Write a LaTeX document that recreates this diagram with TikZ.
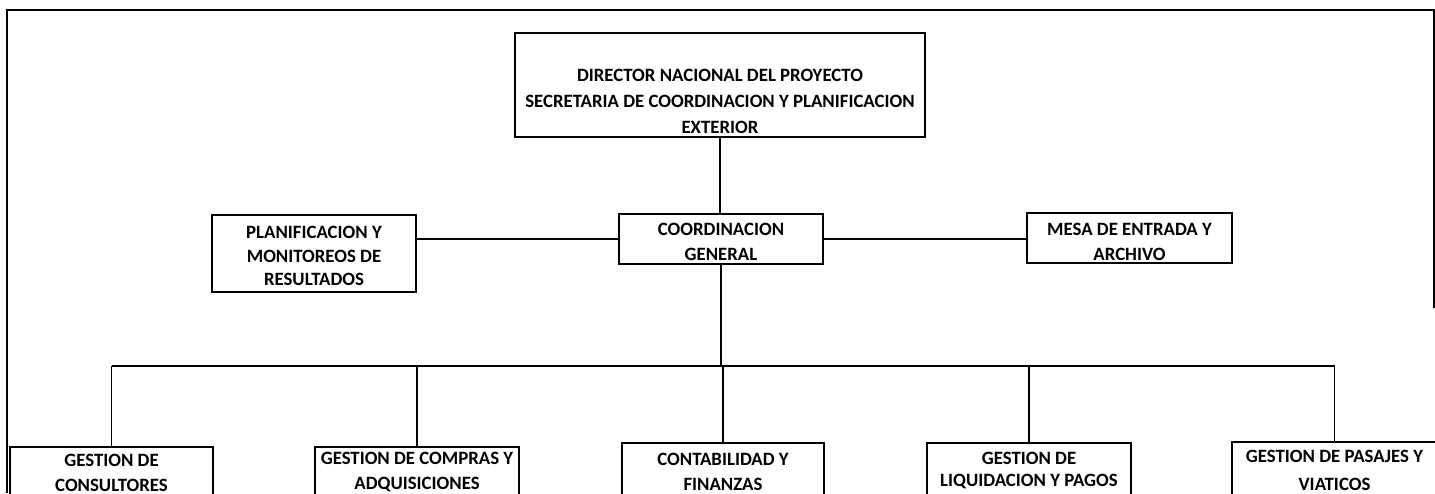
\documentclass[tikz,border=0pt]{standalone}
\usepackage{fontspec}
\setmainfont{Carlito}
\begin{document}
\begin{tikzpicture}[x=1pt,y=-1pt,
  box/.style={draw=black,line width=1.3pt,inner sep=0pt,fill=none},
  txt/.style={align=center,inner sep=0pt,font=\bfseries\fontsize{18.8}{25}\selectfont},
  link/.style={draw=black,line width=1.1pt},
  frame/.style={draw=black,line width=2pt}]
\useasboundingbox (0,0) rectangle (1435,493);
\clip (0,0) rectangle (1435,493);
\fill[white] (0,0) rectangle (1435,493);
% outer frame
\coordinate (fl) at (7,493);
\coordinate (ftl) at (7,10);
\coordinate (ftr) at (1434,10);
\coordinate (fr) at (1434,308);
\draw[frame] (fl) -- (ftl) -- (ftr) -- (fr);
% boxes
\node[box,minimum width=410pt,minimum height=104pt] (top) at (720,85) {};
\node[box,minimum width=204pt,minimum height=50pt] (coord) at (721,239) {};
\node[box,minimum width=204pt,minimum height=77pt] (plan) at (314,253.5) {};
\node[box,minimum width=205pt,minimum height=50pt] (mesa) at (1129.5,238) {};
\node[box,minimum width=203pt,minimum height=100pt] (b1) at (111.5,497) {};
\node[box,minimum width=204pt,minimum height=100pt] (b2) at (417,497) {};
\node[box,minimum width=202pt,minimum height=100pt] (b3) at (723,493) {};
\node[box,minimum width=204pt,minimum height=100pt] (b4) at (1029,493) {};
\node[box,minimum width=205pt,minimum height=100pt] (b5) at (1334.5,492) {};
% texts
\node[txt,font=\bfseries\fontsize{18.8}{26}\selectfont] (ttop) at (720,101) {DIRECTOR NACIONAL DEL PROYECTO\\SECRETARIA DE COORDINACION Y PLANIFICACION\\EXTERIOR};
\node[txt] (tcoord) at (721,241.5) {COORDINACION\\GENERAL};
\node[txt,font=\bfseries\fontsize{18.8}{23.5}\selectfont] (tplan) at (314,256) {PLANIFICACION Y\\MONITOREOS DE\\RESULTADOS};
\node[txt] (tmesa) at (1129.5,241.5) {MESA DE ENTRADA Y\\ARCHIVO};
\node[txt] (tb1) at (111.5,472.5) {GESTION DE\\CONSULTORES};
\node[txt] (tb2) at (417,472.5) {GESTION DE COMPRAS Y\\ADQUISICIONES};
\node[txt] (tb3) at (723,472) {CONTABILIDAD Y\\FINANZAS};
\node[txt,font=\bfseries\fontsize{18.8}{22}\selectfont] (tb4) at (1029,471) {GESTION DE\\LIQUIDACION Y PAGOS};
\node[txt,font=\bfseries\fontsize{18.8}{28}\selectfont] (tb5) at (1334.5,470.5) {GESTION DE PASAJES Y\\VIATICOS};
% connectors
\coordinate (bus) at (722,366);
\draw[link] (top.south) -- (top.south |- coord.north);
\draw[link] (coord.west) -- (coord.west -| plan.east);
\draw[link] (coord.east) -- (coord.east -| mesa.west);
\draw[link] (coord.south) -- (coord.south |- bus);
\draw[link] (b1.north |- bus) -- (b5.north |- bus);
\foreach \b in {b1,b2,b3,b4,b5}{
  \draw[link] (\b.north) -- (\b.north |- bus);
}
\end{tikzpicture}
\end{document}
